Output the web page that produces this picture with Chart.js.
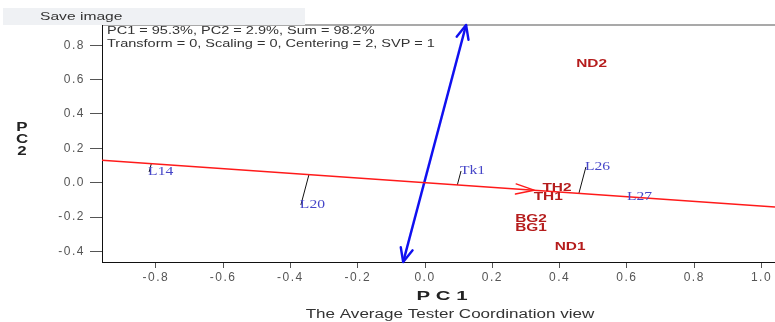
<!DOCTYPE html>
<html>
<head>
<meta charset="utf-8">
<script src="https://cdn.jsdelivr.net/npm/chart.js@4.4.1/dist/chart.umd.min.js"></script>
<style>
  html, body { margin: 0; padding: 0; background: #fff; }
  #wrap { width: 775px; height: 322px; position: relative; }
</style>
</head>
<body>
<div id="wrap"><canvas id="biplot"></canvas></div>
<script>
/* GGE biplot — Average Tester Coordination view */
const genNames = ["ND2", "TH2", "TH1", "BG2", "BG1", "ND1"];
const genX = [0.495, 0.392, 0.366, 0.315, 0.315, 0.431];
const genY = [0.693, -0.031, -0.083, -0.212, -0.264, -0.374];

const envNames = ["L14", "L20", "Tk1", "L26", "L27"];
const envX = [-0.820, -0.369, 0.107, 0.478, 0.603];
const envY = [0.062, -0.130, 0.068, 0.091, -0.083];

const atcTip = [0.324, -0.044];          // average tester (arrow on the ATC axis)
const perpX = [-0.065, 0.122];           // ATC ordinate, bottom -> top
const perpY = [-0.462, 0.918];

const xTicks = [-0.8, -0.6, -0.4, -0.2, 0.0, 0.2, 0.4, 0.6, 0.8, 1.0];
const yTicks = [-0.4, -0.2, 0.0, 0.2, 0.4, 0.6, 0.8];
const xRange = [-0.96, 1.04];
const yRange = [-0.462, 0.918];

const headLines = ["PC1 = 95.3%, PC2 = 2.9%, Sum = 98.2%", "Transform = 0, Scaling = 0, Centering = 2, SVP = 1"];
const xTitle = "P C 1", yTitle = "PC2", caption = "The Average Tester Coordination view";

const SANS = "'Liberation Sans', Arial, sans-serif";
const SERIF = "'Liberation Serif', 'Times New Roman', serif";
const RED = "#ff1a1a", BLUE = "#1010f0", GEN = "#b51c1c", ENV = "#4646c8";

// ATC line through origin and the average tester
const slope = atcTip[1] / atcTip[0];
const atcLine = xRange.map(x => ({ x, y: slope * x }));

// projection of each environment onto the ATC axis
const ux = 1 / Math.hypot(1, slope), uy = slope / Math.hypot(1, slope);
const projSets = envNames.map((n, i) => {
  const d = envX[i] * ux + envY[i] * uy;
  return {
    data: [{ x: envX[i], y: envY[i] }, { x: d * ux, y: d * uy }],
    showLine: true, borderColor: "#111", borderWidth: 1, pointRadius: 0
  };
});

// horizontally stretched text, left edge at x
function sText(ctx, txt, x, y, font, color, sx, align) {
  ctx.save();
  ctx.letterSpacing = "0px";
  ctx.font = font; ctx.fillStyle = color;
  ctx.textBaseline = "middle"; ctx.textAlign = "left";
  const w = ctx.measureText(txt).width * sx;
  const x0 = align === "center" ? x - w / 2 : x;
  ctx.translate(x0, y); ctx.scale(sx, 1);
  ctx.fillText(txt, 0, 0);
  ctx.restore();
}
function arrowHead(ctx, tip, from, len, ang, color, lw) {
  const a = Math.atan2(from.y - tip.y, from.x - tip.x);
  ctx.save();
  ctx.strokeStyle = color; ctx.lineWidth = lw; ctx.lineCap = "round";
  ctx.beginPath();
  [ang, -ang].forEach(s => {
    ctx.moveTo(tip.x, tip.y);
    ctx.lineTo(tip.x + len * Math.cos(a + s), tip.y + len * Math.sin(a + s));
  });
  ctx.stroke();
  ctx.restore();
}

const decor = {
  id: "decor",
  beforeDraw(chart) {
    const ctx = chart.ctx;
    ctx.letterSpacing = "1.5px";
    // "Save image" bar and plot top border
    ctx.save();
    ctx.fillStyle = "#a9a9a9";
    ctx.fillRect(chart.chartArea.left, 24, chart.width - chart.chartArea.left, 2);
    ctx.fillStyle = "#eff1f4";
    ctx.fillRect(3, 8, 302, 17);
    ctx.restore();
    sText(ctx, "Save image", 40, 17, "11px " + SANS, "#333", 1.42);
  },
  afterDatasetsDraw(chart) {
    const ctx = chart.ctx, xs = chart.scales.x, ys = chart.scales.y;
    const P = (x, y) => ({ x: xs.getPixelForValue(x), y: ys.getPixelForValue(y) });
    // arrows
    arrowHead(ctx, P(atcTip[0], atcTip[1]), P(0, 0), 19, 0.27, RED, 1.4);
    arrowHead(ctx, P(perpX[1], perpY[1]), P(perpX[0], perpY[0]), 15, 0.42, BLUE, 2.4);
    arrowHead(ctx, P(perpX[0], perpY[0]), P(perpX[1], perpY[1]), 15, 0.42, BLUE, 2.4);
    // environment labels
    chart.getDatasetMeta(chart.data.datasets.length - 2).data.forEach((pt, i) => {
      sText(ctx, envNames[i], pt.x - 1, pt.y, "12px " + SERIF, ENV, 1.3);
    });
    // genotype labels
    chart.getDatasetMeta(chart.data.datasets.length - 1).data.forEach((pt, i) => {
      sText(ctx, genNames[i], pt.x, pt.y, "bold 11px " + SANS, GEN, 1.4, "center");
    });
  },
  afterDraw(chart) {
    const ctx = chart.ctx;
    sText(ctx, headLines[0], 107, 31, "11px " + SANS, "#333", 1.32);
    sText(ctx, headLines[1], 107, 44, "11px " + SANS, "#333", 1.32);
    sText(ctx, xTitle, 442, 297, "bold 12px " + SANS, "#222", 1.7, "center");
    sText(ctx, caption, 450, 315, "12px " + SANS, "#333", 1.42, "center");
    [...yTitle].forEach((ch, i) => sText(ctx, ch, 22, 127 + i * 12, "bold 13px " + SANS, "#222", 1.3, "center"));
  }
};

const tickFont = { family: SANS, size: 12 };
new Chart(document.getElementById("biplot"), {
  type: "scatter",
  data: {
    datasets: [
      { data: atcLine, showLine: true, borderColor: RED, borderWidth: 1.5, pointRadius: 0 },
      { data: perpX.map((x, i) => ({ x, y: perpY[i] })), showLine: true, borderColor: BLUE, borderWidth: 2.5, pointRadius: 0 },
      ...projSets,
      { data: envX.map((x, i) => ({ x, y: envY[i] })), pointRadius: 0 },
      { data: genX.map((x, i) => ({ x, y: genY[i] })), pointRadius: 0 }
    ]
  },
  options: {
    responsive: true, maintainAspectRatio: false, animation: false,
    layout: { padding: { top: 25, left: 0, right: 0, bottom: 0 } },
    plugins: { legend: { display: false }, tooltip: { enabled: false } },
    scales: {
      x: {
        type: "linear", min: xRange[0], max: xRange[1],
        afterBuildTicks: s => { s.ticks = xTicks.map(value => ({ value })); },
        afterFit: s => { s.height = 60; },
        ticks: { font: tickFont, color: "#555", padding: 2, callback: v => v.toFixed(1) },
        grid: { drawOnChartArea: false, drawTicks: true, tickLength: 6, color: "#555" },
        border: { display: true, color: "#111", width: 1 }
      },
      y: {
        type: "linear", min: yRange[0], max: yRange[1],
        afterBuildTicks: s => { s.ticks = yTicks.map(value => ({ value })); },
        afterFit: s => { s.width = 102; },
        ticks: { font: tickFont, color: "#555", padding: 5, callback: v => v.toFixed(1) },
        grid: { drawOnChartArea: false, drawTicks: true, tickLength: 12, color: "#555" },
        border: { display: true, color: "#111", width: 1 }
      }
    }
  },
  plugins: [decor]
});
</script>
</body>
</html>
